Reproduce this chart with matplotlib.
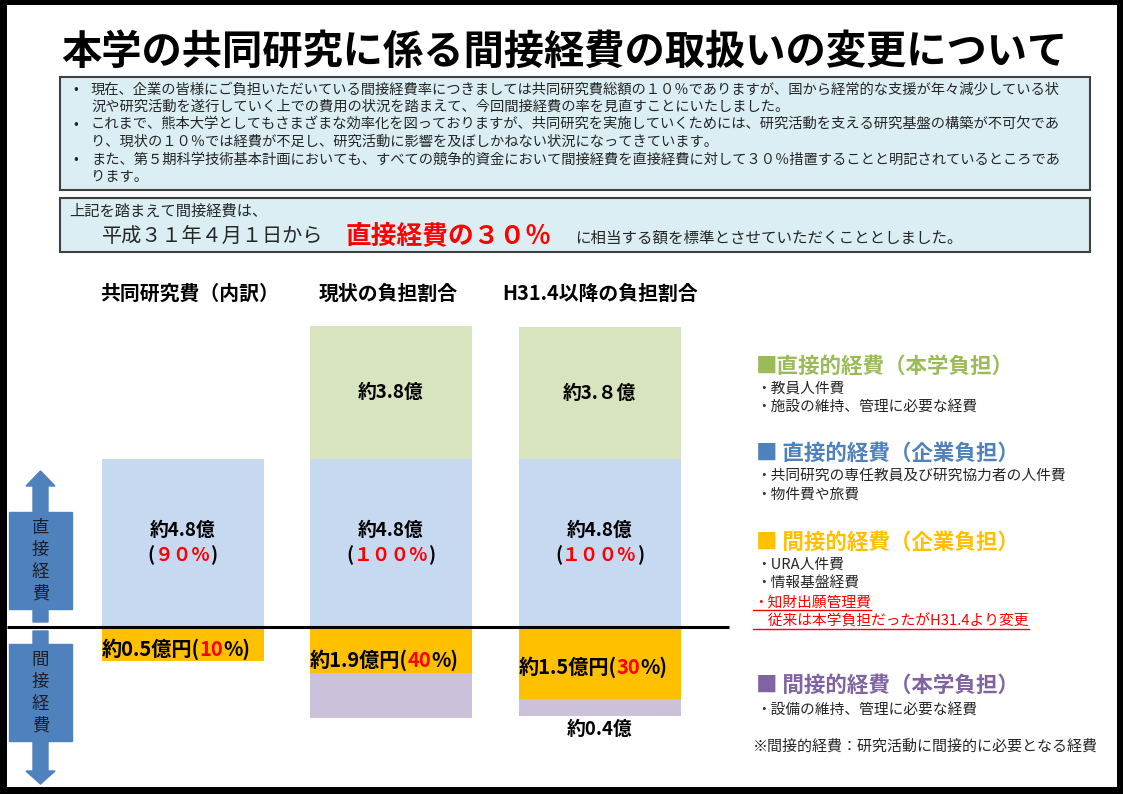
"""Infographic: change in indirect cost handling for joint research."""

import matplotlib

matplotlib.use("Agg")
import matplotlib.pyplot as plt
from matplotlib.patches import Polygon, Rectangle

plt.rcParams["font.family"] = ["Noto Sans CJK JP", "DejaVu Sans"]

W, H = 1123, 794

# ---- data (bar segment heights as drawn, in 億-scaled units) ----
columns = ["共同研究費（内訳）", "現状の負担割合", "H31.4以降の負担割合"]
direct_company = [4.8, 4.8, 4.8]
direct_univ = [0.0, 3.8, 3.77]
indirect_company = [0.97, 1.3, 2.05]
indirect_univ = [0.0, 1.3, 0.5]

direct_company_lbl = ["約4.8億", "約4.8億", "約4.8億"]
direct_share_lbl = ["９０", "１００", "１００"]
direct_univ_lbl = [None, "約3.8億", "約3.８億"]
indirect_amount_lbl = ["約0.5億円", "約1.9億円", "約1.5億円"]
indirect_share_lbl = ["10", "40", "30"]
indirect_univ_lbl = [None, None, "約0.4億"]

bullets = [
    "現在、企業の皆様にご負担いただいている間接経費率につきましては共同研究費総額の１０％でありますが、国から経常的な支援が年々減少している状",
    "況や研究活動を遂行していく上での費用の状況を踏まえて、今回間接経費の率を見直すことにいたしました。",
    "これまで、熊本大学としてもさまざまな効率化を図っておりますが、共同研究を実施していくためには、研究活動を支える研究基盤の構築が不可欠であ",
    "り、現状の１０％では経費が不足し、研究活動に影響を及ぼしかねない状況になってきています。",
    "また、第５期科学技術基本計画においても、すべての競争的資金において間接経費を直接経費に対して３０％措置することと明記されているところであ",
    "ります。",
]
bullet_starts = [True, False, True, False, True, False]

legend = [
    ("■直接的経費（本学負担）", "#9BBB59", ["・教員人件費", "・施設の維持、管理に必要な経費"], [False, False]),
    ("■ 直接的経費（企業負担）", "#4F81BD", ["・共同研究の専任教員及び研究協力者の人件費", "・物件費や旅費"], [False, False]),
    ("■ 間接的経費（企業負担）", "#FFC000",
     ["・URA人件費", "・情報基盤経費", "・知財出願管理費", "　従来は本学負担だったがH31.4より変更"],
     [False, False, True, True]),
    ("■ 間接的経費（本学負担）", "#8064A2", ["・設備の維持、管理に必要な経費"], [False]),
]

COLORS = {
    "blue_bar": "#C6D9F1",
    "green_bar": "#D7E4BD",
    "orange": "#FFC000",
    "purple_bar": "#CCC1DA",
    "arrow": "#4F81BD",
    "box": "#DAEEF3",
    "red": "#FF0000",
    "text": "#262626",
}

fig = plt.figure(figsize=(W / 100, H / 100), dpi=100, facecolor="black")
fig.add_artist(
    Rectangle((7 / W, 7 / H), 1110 / W, 782 / H, transform=fig.transFigure,
              facecolor="white", edgecolor="none", zorder=-10)
)

# bar axes: 35 px per unit, baseline at y=627px, bars 208.5 px apart
PX_UNIT, BASE_Y, X0, DX = 35.0, 627.0, 182.5, 208.5
axb = fig.add_axes([0, 0, 1, 1], zorder=1)
axb.set_xlim(-X0 / DX, (W - X0) / DX)
axb.set_ylim(-(H - BASE_Y) / PX_UNIT, BASE_Y / PX_UNIT)
axb.axis("off")
xs = list(range(len(columns)))
bw = 162 / DX
axb.bar(xs, direct_company, width=bw, color=COLORS["blue_bar"])
axb.bar(xs, direct_univ, width=bw, bottom=direct_company, color=COLORS["green_bar"])
axb.bar(xs, [-v for v in indirect_company], width=bw, color=COLORS["orange"])
axb.bar(xs, [-v for v in indirect_univ], width=bw,
        bottom=[-v for v in indirect_company], color=COLORS["purple_bar"])
axb.hlines(0, -0.84, 2.62, color="black", lw=2.2, zorder=5)

# overlay axes in pixel coordinates
ax = fig.add_axes([0, 0, 1, 1], zorder=2)
ax.set_xlim(0, W)
ax.set_ylim(H, 0)
ax.axis("off")
renderer = fig.canvas.get_renderer()


def to_px(x, y):
    disp = axb.transData.transform((x, y))
    return ax.transData.inverted().transform(disp)


def rich_text(x, y, parts, ha="center", va="center", **kw):
    texts = [ax.text(0, y, s, color=c, va=va, ha="left", **kw) for s, c in parts]
    widths = [t.get_window_extent(renderer).width for t in texts]
    total = sum(widths)
    start = x - total / 2 if ha == "center" else x
    for t, w in zip(texts, widths):
        t.set_x(start)
        start += w
    return total


# title
ax.text(564, 52, "本学の共同研究に係る間接経費の取扱いの変更について",
        ha="center", va="center", fontsize=29, fontweight="bold", color="black")

# explanation boxes
ax.add_patch(Rectangle((60, 77), 1030, 113, facecolor=COLORS["box"],
                       edgecolor="#404040", lw=1.5))
for i, (line, first) in enumerate(zip(bullets, bullet_starts)):
    y = 89 + 17.6 * i
    if first:
        ax.text(73, y, "•", ha="left", va="center", fontsize=10, color=COLORS["text"])
    ax.text(91, y, line, ha="left", va="center", fontsize=10.3, color=COLORS["text"])

ax.add_patch(Rectangle((60, 198), 1030, 54, facecolor=COLORS["box"],
                       edgecolor="#404040", lw=1.5))
ax.text(69, 211, "上記を踏まえて間接経費は、", ha="left", va="center",
        fontsize=11, color=COLORS["text"])
ax.text(102, 243, "平成３１年４月１日から", ha="left", va="baseline",
        fontsize=14.5, color=COLORS["text"])
ax.text(346, 243, "直接経費の３０％", ha="left", va="baseline",
        fontsize=18.5, fontweight="bold", color=COLORS["red"])
ax.text(575, 243, "に相当する額を標準とさせていただくこととしました。", ha="left",
        va="baseline", fontsize=11.2, color=COLORS["text"])

# column headers
for xc, name in zip([190, 388, 600], columns):
    ax.text(xc, 293, name, ha="center", va="center", fontsize=14.3,
            fontweight="bold", color="black")

# bar labels
for i in xs:
    mid_direct = direct_company[i] / 2
    cx, cy = to_px(i, mid_direct + 0.36)
    ax.text(cx, cy, direct_company_lbl[i], ha="center", va="center",
            fontsize=13.5, fontweight="bold", color="black")
    cx, cy = to_px(i, mid_direct - 0.34)
    rich_text(cx, cy, [("(", "black"), (direct_share_lbl[i] + "%", COLORS["red"]),
                       (")", "black")], fontsize=13.5, fontweight="bold")
    if direct_univ_lbl[i]:
        cx, cy = to_px(i, direct_company[i] + direct_univ[i] * 0.5)
        ax.text(cx, cy, direct_univ_lbl[i], ha="center", va="center",
                fontsize=13.5, fontweight="bold", color="black")
    lx, _ = to_px(i - bw / 2, 0)
    _, ly = to_px(i, -[0.63, 0.95, 1.15][i])
    rich_text(lx, ly, [(indirect_amount_lbl[i] + "(", "black"),
                       (indirect_share_lbl[i], COLORS["red"]), ("%)", "black")],
              ha="left", fontsize=14.5, fontweight="bold")
    if indirect_univ_lbl[i]:
        cx, cy = to_px(i, -(indirect_company[i] + indirect_univ[i]) - 0.38)
        ax.text(cx, cy, indirect_univ_lbl[i], ha="center", va="center",
                fontsize=13.5, fontweight="bold", color="black")

# left double arrows
arrow_c = COLORS["arrow"]
ax.add_patch(Polygon([(40.5, 471), (55, 486), (48, 486), (48, 622), (33, 622),
                      (33, 486), (26, 486)], closed=True, color=arrow_c))
ax.add_patch(Rectangle((9, 512), 63, 97, color=arrow_c))
ax.add_patch(Polygon([(33, 631), (48, 631), (48, 771), (55, 771), (40.5, 784),
                      (26, 771), (33, 771)], closed=True, color=arrow_c))
ax.add_patch(Rectangle((9, 644), 63, 97, color=arrow_c))
for y0, word in [(528, "直接経費"), (660, "間接経費")]:
    for k, ch in enumerate(word):
        ax.text(40.5, y0 + 22 * k, ch, ha="center", va="center",
                fontsize=12.5, color="#1E1E28")

# legend on the right
head_y = [366, 453, 542, 685]
for (title, col, items, red_flags), hy in zip(legend, head_y):
    ax.text(756, hy, title, ha="left", va="center", fontsize=15.5,
            fontweight="bold", color=col)
    step = 19 if len(items) < 4 else 18.7
    for k, (item, red) in enumerate(zip(items, red_flags)):
        iy = hy + 23 + step * k if hy != 685 else hy + 26
        x0 = 753 if red else 756
        t = ax.text(x0, iy, item, ha="left", va="center", fontsize=10.6,
                    color=COLORS["red"] if red else COLORS["text"])
        if red:
            w = t.get_window_extent(renderer).width
            ax.plot([x0, x0 + w], [iy + 8, iy + 8], color=COLORS["red"], lw=1)

ax.text(753, 747, "※間接的経費：研究活動に間接的に必要となる経費", ha="left",
        va="center", fontsize=10.8, color=COLORS["text"])

fig.savefig("out.png", dpi=100, facecolor=fig.get_facecolor())
